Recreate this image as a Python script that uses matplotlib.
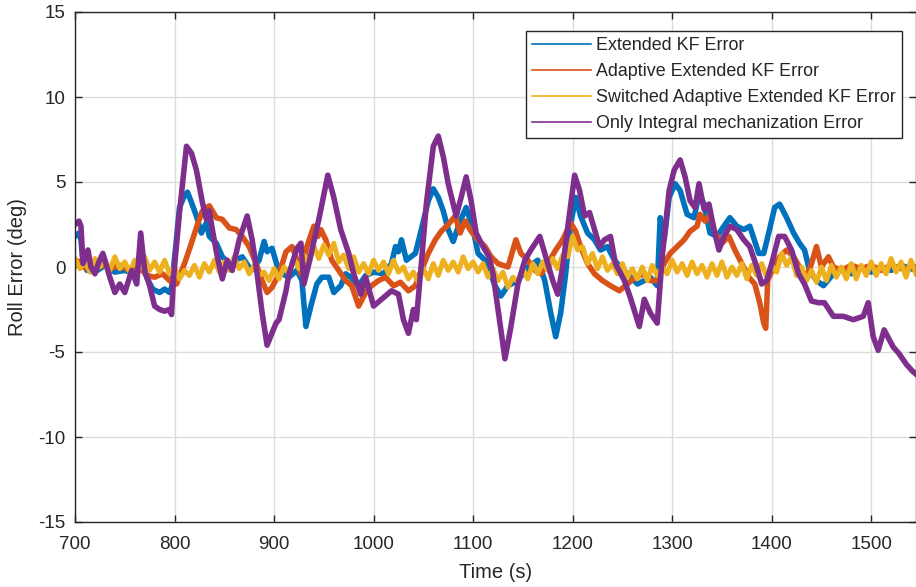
import numpy as np
import matplotlib
matplotlib.use('Agg')
import matplotlib.pyplot as plt
from matplotlib.lines import Line2D

# ---- data (time in s, roll error in deg) ----
ekf_t = [700, 704, 706, 708, 712, 716, 720, 730, 740, 750, 760, 768, 772, 778, 785, 790,
         795, 797, 800, 805, 810, 813, 817, 822, 827, 832, 835, 842, 848, 855, 862, 868,
         877, 885, 890, 893, 898, 903, 908, 915, 923, 928, 932, 937, 943, 948, 955, 960,
         967, 972, 977, 985, 992, 1000, 1010, 1018, 1022, 1025, 1028, 1033, 1042, 1048,
         1055, 1060, 1065, 1070, 1075, 1080, 1087, 1093, 1100, 1105, 1112, 1115, 1122,
         1128, 1135, 1145, 1155, 1165, 1172, 1178, 1183, 1188, 1193, 1198, 1203, 1208,
         1215, 1222, 1228, 1235, 1242, 1248, 1255, 1265, 1272, 1278, 1285, 1288, 1292,
         1297, 1303, 1308, 1315, 1322, 1327, 1332, 1338, 1345, 1352, 1358, 1365, 1372,
         1378, 1387, 1392, 1397, 1403, 1408, 1415, 1422, 1428, 1433, 1438, 1445, 1452,
         1462, 1470, 1480, 1490, 1500, 1510, 1520, 1530, 1545]
ekf_err = [1.8, 2.0, 1.6, 0.3, -0.2, 0.2, -0.3, 0.1, -0.3, -0.2, -0.4, 0.0, -0.6, -1.3, -1.5, -1.3,
           -1.5, -1.2, 0.5, 3.5, 4.2, 4.4, 3.8, 3.0, 2.0, 2.6, 1.8, 1.4, 0.6, 0.2, 0.4, 0.6,
           -0.2, 0.4, 1.5, 0.9, 1.1, 0.1, -0.4, -0.6, -0.2, -0.8, -3.5, -2.3, -1.0, -0.6, -0.6, -1.5,
           -1.1, -0.4, -0.6, -1.1, -0.5, -0.3, -0.4, 0.2, 1.2, 0.9, 1.6, 0.4, 0.8, 2.2,
           3.9, 4.6, 4.1, 3.3, 2.2, 1.5, 2.7, 3.5, 2.2, 0.8, 0.4, 0.0, -1.1,
           -1.7, -1.1, -0.8, 0.0, 0.4, -0.8, -2.7, -4.1, -2.7, -0.4, 2.5, 4.1, 3.0,
           2.0, 1.6, 1.0, 1.2, 0.4, 0.0, -0.4, -1.0, -0.8, -0.6, -1.1, 2.9, 1.6,
           4.1, 4.9, 4.5, 3.1, 2.9, 4.3, 3.7, 2.0, 1.8, 2.4, 2.9, 2.4, 2.2,
           2.4, 0.8, 0.8, 2.0, 3.5, 3.7, 2.9, 2.0, 1.4, 1.0, -0.2, -0.8, -1.1,
           -0.4, -0.2, -0.4, -0.1, -0.3, 0.0, -0.2, 0.1, -0.2]

aekf_t = [700, 705, 708, 715, 725, 735, 745, 755, 765, 772, 780, 788, 795, 802, 810, 817,
          823, 828, 835, 842, 848, 855, 862, 868, 875, 882, 888, 893, 898, 905, 912, 918,
          922, 927, 933, 940, 944, 947, 952, 958, 965, 972, 978, 985, 992, 998, 1005,
          1012, 1020, 1027, 1035, 1042, 1048, 1055, 1062, 1068, 1075, 1082, 1087, 1092,
          1098, 1105, 1112, 1118, 1125, 1135, 1143, 1148, 1155, 1162, 1168, 1177, 1183,
          1190, 1198, 1203, 1208, 1215, 1222, 1230, 1238, 1247, 1255, 1263, 1272, 1278,
          1285, 1292, 1298, 1305, 1312, 1318, 1325, 1328, 1333, 1338, 1343, 1350, 1357,
          1363, 1370, 1377, 1383, 1388, 1392, 1394, 1396, 1402, 1408, 1415, 1422, 1428,
          1435, 1440, 1445, 1450, 1457, 1462, 1470, 1480, 1490, 1500, 1510, 1520, 1530, 1545]
aekf_err = [0.4, 0.3, 0.0, -0.1, 0.2, -0.1, 0.1, -0.2, 0.0, -0.5, -0.6, -0.4, -0.8, -1.0, 0.2, 1.4,
            2.5, 3.3, 3.6, 2.9, 2.8, 2.3, 2.2, 1.8, 1.2, 0.2, -0.8, -1.5, -1.2, -0.4, 0.9, 1.2,
            0.6, -0.4, 1.2, 2.4, 1.8, 2.2, 1.6, 0.4, -0.2, -0.8, -1.1, -2.3, -1.5, -1.1, -0.8,
            -0.6, -1.1, -0.9, -1.4, -1.1, -0.2, 0.8, 1.6, 2.1, 2.5, 3.0, 2.0, 2.7,
            2.1, 1.6, 1.2, 0.6, 0.2, 0.0, 1.6, 0.8, 0.4, -0.2, -0.4, 0.4, 1.0,
            1.6, 2.6, 2.1, 1.2, 0.2, -0.4, -0.8, -1.1, -1.4, -1.0, -0.6, -0.4, -0.8,
            -0.8, 0.2, 0.8, 1.2, 1.6, 2.1, 2.4, 3.1, 2.7, 3.1, 2.0, 1.4, 1.8,
            1.0, 0.2, -0.6, -1.0, -2.1, -3.3, -3.6, -0.8, 0.0, 0.6, 1.0, 0.6, 0.0,
            -0.6, 0.2, 1.2, 0.0, 0.6, 0.0, -0.2, 0.1, -0.1, 0.1, -0.2, 0.1, -0.1, 0.0]

# switched adaptive EKF: noisy band around zero, sampled every 5 s
saekf_t = np.arange(700, 1550, 5)
saekf_err = [0.5, -0.1, 0.3, -0.3, 0.5, 0.0, 0.4, -0.2, 0.6, -0.1,     # 700
             0.3, -0.3, 0.4, -0.1, 0.6, -0.2, 0.3, -0.3, 0.4, -0.4,     # 750
             0.0, -0.7, -0.2, -0.5, 0.1, -0.6, 0.2, -0.3, 0.4, -0.3,    # 800
             0.3, -0.2, 0.6, -0.1, 0.3, -0.4, 0.1, -0.5, -0.3, -0.8,    # 850
             -0.1, -0.7, 0.0, -0.4, 0.5, -0.1, 0.7, 0.2, 1.2, 0.5,      # 900
             1.3, 0.7, 1.4, 0.3, 0.7, -0.1, 0.6, -0.3, 0.2, -0.4,       # 950
             0.4, -0.2, 0.3, -0.4, 0.4, -0.3, 0.0, -0.7, -0.3, -0.9,    # 1000
             -0.1, -0.7, 0.2, -0.5, 0.4, -0.2, 0.3, -0.3, 0.6, -0.1,    # 1050
             0.3, -0.3, 0.2, -0.6, -0.1, -0.8, -0.3, -1.2, -0.6, -0.9,  # 1100
             -0.1, -0.7, 0.2, -0.4, 0.3, -0.2, 0.5, -0.1, 0.7, 0.6,     # 1150
             1.8, 1.0, 1.2, 0.2, 0.8, -0.1, 0.6, -0.2, 0.2, -0.4,       # 1200
             0.2, -0.6, -0.1, -0.7, 0.0, -0.8, 0.1, -0.5, 0.0, -0.4,    # 1250
             0.4, -0.3, 0.2, -0.5, 0.3, -0.4, 0.1, -0.6, 0.2, -0.5,     # 1300
             0.3, -0.6, 0.0, -0.5, 0.2, -0.7, 0.1, -0.5, 0.2, -0.6,     # 1350
             0.1, -0.3, 0.8, 0.1, 0.6, -0.5, 0.0, -0.8, -0.2, -0.9,     # 1400
             0.0, -0.8, 0.1, -0.6, 0.0, -0.7, 0.2, -0.7, 0.1, -0.5,     # 1450
             0.3, -0.5, 0.2, -0.4, 0.5, -0.3, 0.3, -0.6, 0.4, -0.4]     # 1500

ins_t = [700, 704, 706, 708, 713, 716, 720, 724, 728, 735, 740, 745, 750, 757, 762, 766,
         770, 775, 780, 785, 790, 795, 797, 799, 805, 812, 817, 822, 828, 832, 835, 838,
         843, 848, 853, 858, 865, 873, 878, 883, 888, 893, 902, 905, 912, 915, 923, 927,
         930, 935, 945, 954, 960, 967, 975, 980, 987, 992, 1000, 1008, 1018, 1025, 1030,
         1035, 1040, 1043, 1048, 1053, 1060, 1065, 1070, 1075, 1080, 1083, 1088, 1093,
         1098, 1103, 1110, 1116, 1120, 1125, 1132, 1138, 1145, 1152, 1158, 1167, 1173,
         1180, 1185, 1190, 1197, 1202, 1207, 1212, 1217, 1222, 1227, 1232, 1238, 1243,
         1252, 1258, 1267, 1272, 1278, 1285, 1290, 1297, 1302, 1308, 1313, 1318, 1323,
         1327, 1332, 1337, 1342, 1347, 1352, 1358, 1365, 1372, 1378, 1385, 1390, 1395,
         1400, 1407, 1413, 1420, 1427, 1433, 1440, 1447, 1453, 1462, 1472, 1482, 1492,
         1497, 1502, 1507, 1513, 1522, 1528, 1535, 1541, 1545]
ins_err = [2.5, 2.7, 2.4, 0.2, 1.0, 0.0, -0.4, 0.3, 0.8, -0.6, -1.5, -1.0, -1.5, -0.2, -1.0, 2.0,
           -0.2, -1.1, -2.3, -2.5, -2.6, -2.5, -2.8, -0.6, 3.2, 7.1, 6.7, 5.7, 3.8, 2.8, 3.3, 2.2,
           0.6, -0.7, 0.4, -0.2, 1.6, 3.0, 1.6, -0.4, -2.7, -4.6, -3.3, -3.1, -1.4, -0.4, 1.1, 1.4,
           -1.0, 0.2, 2.8, 5.4, 4.1, 2.2, 0.8, -0.4, -1.6, -0.6, -2.3, -1.9, -1.4, -1.6, -3.1,
           -3.9, -2.5, -3.1, 0.2, 3.7, 7.1, 7.7, 6.5, 4.9, 3.7, 3.0, 4.1, 5.3,
           3.9, 2.0, 1.2, 0.6, -0.4, -2.5, -5.4, -3.5, -1.0, 0.4, 1.0, 1.8, 0.6,
           -0.8, -1.6, 0.0, 3.2, 5.4, 4.5, 3.0, 3.2, 2.2, 1.2, 1.6, 1.8, 0.2,
           -0.8, -1.8, -3.5, -1.9, -2.7, -3.3, 0.6, 4.5, 5.7, 6.3, 5.3, 3.9, 3.5,
           4.9, 3.4, 3.7, 2.2, 1.0, 1.8, 2.4, 2.2, 1.6, 1.2, 0.0, -1.0, -0.8,
           0.2, 1.8, 1.8, 1.0, -0.4, -1.0, -2.0, -2.1, -2.1, -2.9, -2.9, -3.1, -2.9,
           -2.1, -4.1, -4.9, -3.7, -4.7, -5.1, -5.7, -6.1, -6.3]

labels = ['Extended KF Error', 'Adaptive Extended KF Error',
          'Switched Adaptive Extended KF Error', 'Only Integral mechanization Error']
colors = ['#0072BD', '#D95319', '#EDB120', '#7E2F8E']
widths = [4.0, 4.0, 3.6, 4.0]
x_ticks = [700, 800, 900, 1000, 1100, 1200, 1300, 1400, 1500]
y_ticks = [-15, -10, -5, 0, 5, 10, 15]

plt.rcParams['font.family'] = ['Liberation Sans', 'DejaVu Sans']
plt.rcParams['axes.unicode_minus'] = False
dark = '#262626'

fig = plt.figure(figsize=(9.16, 5.87), dpi=100)
ax = fig.add_axes([75 / 916, 65 / 587, 841 / 916, 510 / 587])

# MATLAB plotting order: later series on top
series = [(ekf_t, ekf_err), (aekf_t, aekf_err), (saekf_t, saekf_err), (ins_t, ins_err)]
for (t, v), c, w in zip(series, colors, widths):
    ax.plot(t, v, color=c, lw=w)

ax.set_xlim(700, 1545)
ax.set_ylim(-15, 15)
ax.set_xticks(x_ticks)
ax.set_yticks(y_ticks)
ax.grid(True, color='#dcdcdc', lw=1)
ax.set_axisbelow(True)
ax.tick_params(direction='in', top=True, right=True, length=5, width=1,
               colors=dark, labelsize=13.5)
ax.tick_params(axis='x', pad=10)
ax.tick_params(axis='y', pad=7)
for s in ax.spines.values():
    s.set_color(dark)
    s.set_linewidth(1)

ax.set_xlabel('Time (s)', fontsize=14.5, color=dark)
ax.set_ylabel('Roll Error (deg)', fontsize=14.5, color=dark)
ax.xaxis.set_label_coords(0.5, -0.080)
ax.yaxis.set_label_coords(-0.057, 0.5)

# legend with thin sample lines
handles = [Line2D([0], [0], color=c, lw=1.2) for c in colors]
leg = ax.legend(handles, labels, loc='upper right',
                bbox_to_anchor=(902 / 916, 1 - 31 / 587), bbox_transform=fig.transFigure,
                fontsize=12.9, handlelength=3.3, handletextpad=0.28, labelspacing=0.5,
                borderpad=0.35, borderaxespad=0, fancybox=False, framealpha=1,
                edgecolor=dark)
leg.get_frame().set_linewidth(1)
for txt in leg.get_texts():
    txt.set_color(dark)

plt.savefig('out.png', dpi=100)
plt.close()
